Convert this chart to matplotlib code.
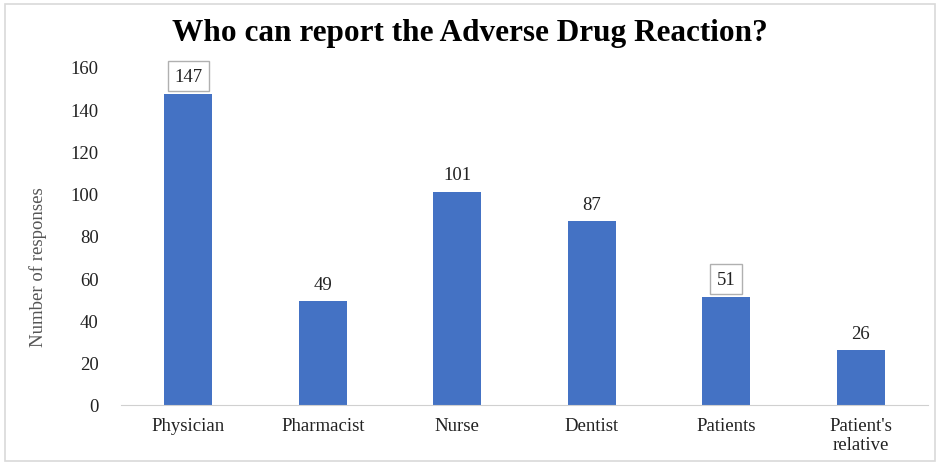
import matplotlib
matplotlib.use("Agg")
import matplotlib.pyplot as plt
from matplotlib.patches import Rectangle

categories = ["Physician", "Pharmacist", "Nurse", "Dentist", "Patients", "Patient's\nrelative"]
values = [147, 49, 101, 87, 51, 26]
boxed = [True, False, False, False, True, False]
yticks = [0, 20, 40, 60, 80, 100, 120, 140, 160]

plt.rcParams['font.family'] = ['Liberation Serif', 'DejaVu Serif']

fig = plt.figure(figsize=(9.4, 4.64), dpi=100)
ax = fig.add_axes([121/940, (464-406)/464, (928-121)/940, (406-68)/464])

x = range(len(categories))
ax.bar(x, values, width=0.36, color="#4472C4", zorder=2)
ax.set_xlim(-0.5, len(categories) - 0.5)
ax.set_ylim(0, 160)
ax.set_yticks(yticks)
ax.set_xticks(list(x))
ax.set_xticklabels(categories, fontsize=13.5, color="#222222", linespacing=1.15)
ax.tick_params(axis='y', length=0, pad=16, labelsize=13.5, labelcolor="#222222")
ax.tick_params(axis='x', length=0, pad=9)
for s in ["top", "right", "left"]:
    ax.spines[s].set_visible(False)
ax.spines["bottom"].set_color("#d0d0d0")

for i, (v, b) in enumerate(zip(values, boxed)):
    kw = {}
    if b:
        kw["bbox"] = dict(boxstyle="square,pad=0.35", facecolor="white", edgecolor="#b0b0b0", linewidth=1)
    ax.annotate(str(v), (i, v), xytext=(0, 7 if b else 6), textcoords="offset points",
                ha="center", va="bottom", fontsize=13.5, color="#222222", **kw)

ax.set_ylabel("Number of responses", fontsize=13.5, color="#555555")
ax.yaxis.set_label_coords(-0.092, 0.41)
fig.text(0.5, 1 - 33/464, "Who can report the Adverse Drug Reaction?", ha="center", va="center",
         fontsize=22.5, fontweight="bold", color="black")

fig.patches.append(Rectangle((5/940, 2/464), 930/940, 457/464, transform=fig.transFigure,
                             fill=False, edgecolor="#d9d9d9", linewidth=1.2))

fig.savefig("out.png", dpi=100)
